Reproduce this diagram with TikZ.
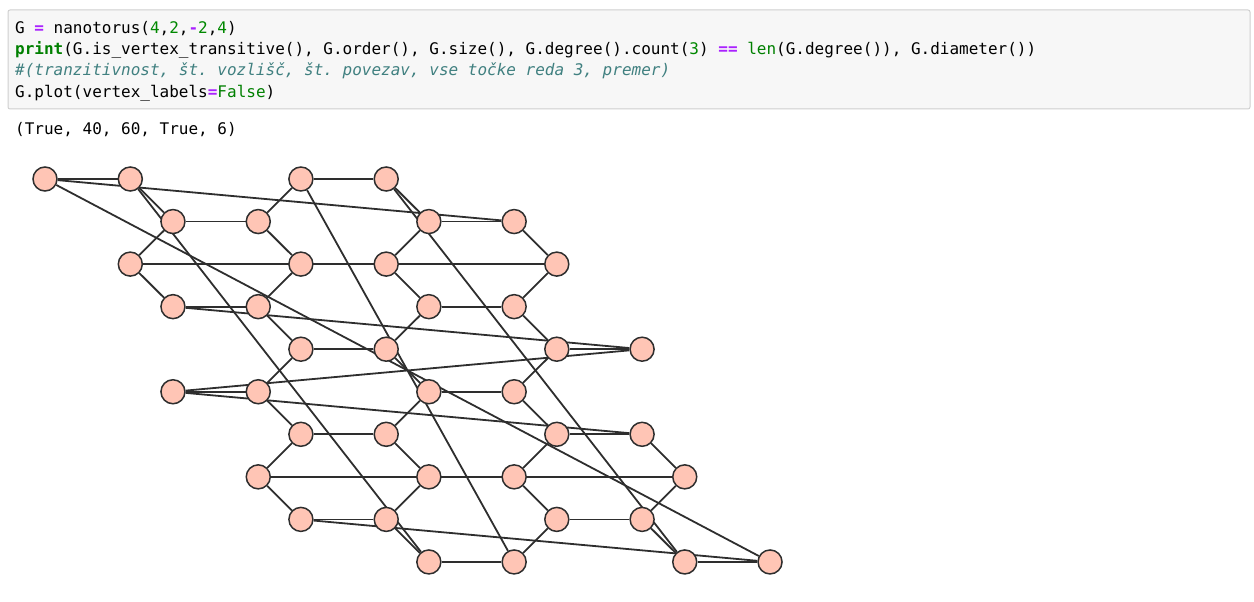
\documentclass[tikz,border=0pt]{standalone}
\usepackage{fontspec}
\setmonofont{DejaVu Sans Mono}
\usetikzlibrary{backgrounds}
\definecolor{cellFill}{HTML}{F7F7F7}
\definecolor{cellStroke}{HTML}{CFCFCF}
\definecolor{kwGreen}{HTML}{008000}
\definecolor{numGreen}{HTML}{008800}
\definecolor{opPurple}{HTML}{AA22FF}
\definecolor{commentTeal}{HTML}{408080}
\definecolor{vertFill}{HTML}{FFC5B5}
\definecolor{vertStroke}{HTML}{2E2E2E}
\newcommand\pyKw[1]{\textcolor{kwGreen}{\textbf{#1}}}
\newcommand\pyName[1]{\textcolor{kwGreen}{#1}}
\newcommand\pyNum[1]{\textcolor{numGreen}{#1}}
\newcommand\pyOp[1]{\textcolor{opPurple}{\textbf{#1}}}

\begin{document}
\begin{tikzpicture}[
    x=1pt, y=-1pt,
    % Global Styles
    font=\ttfamily\fontsize{16}{21}\selectfont,
    % Node Styles
    codeline/.style={anchor=base west, inner sep=0pt},
    vert/.style={
        circle,
        draw=vertStroke,
        fill=vertFill,
        line width=1.5pt,
        minimum size=24pt,
        inner sep=0pt
    },
    % Edge Style
    edge/.style={
        draw=vertStroke,
        line width=1.8pt
    }
]
    \useasboundingbox (0,0) rectangle (1254,602);

    % --- Code cell ---
    \draw[cellStroke, fill=cellFill, line width=1pt, rounded corners=2pt] (8,10) rectangle (1250,109);
    \node[codeline] (line1) at (15,34) {G \pyOp{=} nanotorus(\pyNum{4},\pyNum{2},\pyOp{-}\pyNum{2},\pyNum{4})};
    \node[codeline] (line2) at (15,55) {\pyKw{print}(G.is\_vertex\_transitive(), G.order(), G.size(), G.degree().count(\pyNum{3}) \pyOp{==} \pyName{len}(G.degree()), G.diameter())};
    \node[codeline] (line3) at (15,76) {\textcolor{commentTeal}{\itshape \#(tranzitivnost, št. vozlišč, št. povezav, vse točke reda 3, premer)}};
    \node[codeline] (line4) at (15,97) {G.plot(vertex\_labels\pyOp{=}\pyName{False})};

    % --- Output ---
    \node[codeline] (out) at (15,135) {(True, 40, 60, True, 6)};

    % --- Vertices (name/column/row) ---
    \foreach \n/\k/\r in {
        a0/0/0, a1/2/0, a2/6/0, a3/8/0,
        b0/3/1, b1/5/1, b2/9/1, b3/11/1,
        c0/2/2, c1/6/2, c2/8/2, c3/12/2,
        d0/3/3, d1/5/3, d2/9/3, d3/11/3,
        e0/6/4, e1/8/4, e2/12/4, e3/14/4,
        f0/3/5, f1/5/5, f2/9/5, f3/11/5,
        g0/6/6, g1/8/6, g2/12/6, g3/14/6,
        h0/5/7, h1/9/7, h2/11/7, h3/15/7,
        i0/6/8, i1/8/8, i2/12/8, i3/14/8,
        j0/9/9, j1/11/9, j2/15/9, j3/17/9}
        \node[vert] (\n) at ({45+\k*42.65},{179+\r*42.55}) {};

    % --- Edges ---
    \begin{pgfonlayer}{background}
        % horizontal rungs
        \foreach \u/\v in {a0/a1, a2/a3, b0/b1, b2/b3, c1/c2, d0/d1, d2/d3,
            e0/e1, e2/e3, f0/f1, f2/f3, g0/g1, g2/g3, h1/h2, i0/i1, i2/i3,
            j0/j1, j2/j3}
            \draw[edge] (\u) -- (\v);
        % zigzag diagonals
        \foreach \u/\v in {a1/b0, a2/b1, a3/b2, b0/c0, b1/c1, b2/c2, b3/c3,
            c0/d0, c1/d1, c2/d2, c3/d3, d1/e0, d2/e1, d3/e2, e0/f1, e1/f2,
            e2/f3, f1/g0, f2/g1, f3/g2, g0/h0, g1/h1, g2/h2, g3/h3, h0/i0,
            h1/i1, h2/i2, h3/i3, i1/j0, i2/j1, i3/j2}
            \draw[edge] (\u) -- (\v);
        % wrap-around edges
        \foreach \u/\v in {c0/c3, h0/h3, a0/b3, a0/j3, a1/j0, a2/j1, a3/j2,
            i0/j3, d0/e3, f0/e3, f0/g3}
            \draw[edge] (\u) -- (\v);
    \end{pgfonlayer}

\end{tikzpicture}
\end{document}
